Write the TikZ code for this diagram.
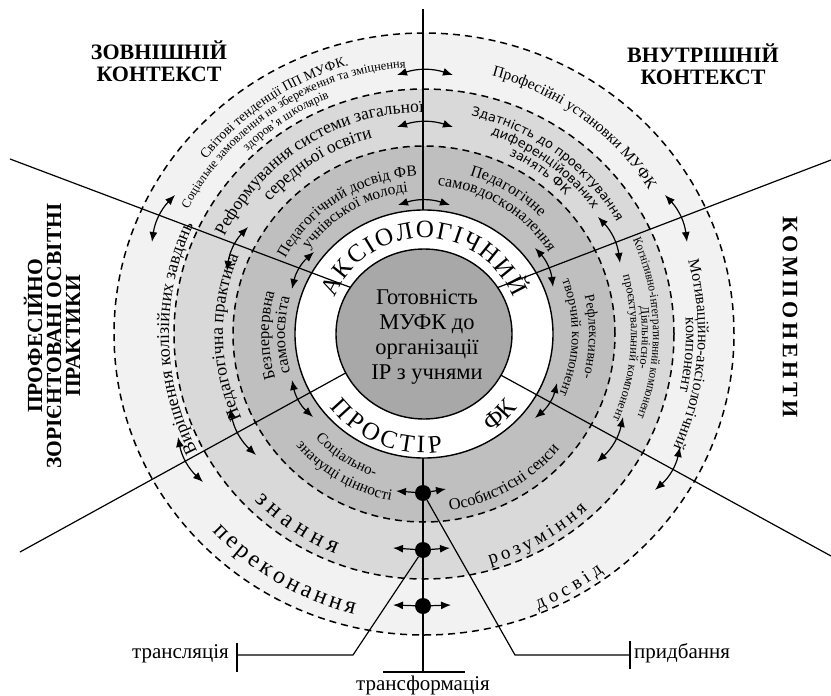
\documentclass[tikz,border=0pt]{standalone}
\usepackage{fontspec}
\setmainfont{Liberation Serif}
\newfontfamily\sansfam{DejaVu Sans}
\newfontfamily\condfam[FakeStretch=0.9]{Liberation Serif}
\usetikzlibrary{decorations.text,arrows.meta}
\newcommand\fsz[1]{\fontsize{#1}{#1}\selectfont}
\newcommand\arctext[5]{\path[decorate,decoration={text along path,text align=center,text={|\rmfamily\mdseries#4|#5}}] ([shift={(#2:#1)}]C) arc[start angle=#2,end angle=#3,radius=#1];}
\newcommand\arcfit[5]{\path[decorate,decoration={text along path,text align={fit to path},text={|\rmfamily\mdseries#4|#5}}] ([shift={(#2:#1)}]C) arc[start angle=#2,end angle=#3,radius=#1];}
\definecolor{outerc}{gray}{0.95}
\definecolor{midc}{gray}{0.85}
\definecolor{innc}{gray}{0.75}
\definecolor{corec}{gray}{0.66}
\tikzset{
  dsh/.style={line width=1.5pt,dash pattern=on 7pt off 5pt},
  ln/.style={line width=1.2pt},
  ringb/.style={line width=1.4pt},
  dbl/.style={<->,line width=1.2pt},
  sarr/.style={->,line width=1.2pt},
  dot/.style={circle,fill=black,inner sep=0pt,minimum size=16pt},
  corner/.style={font=\rmfamily\bfseries\fontsize{22}{22}\selectfont,align=center,inner sep=0pt},
  lbl/.style={font=\rmfamily\fontsize{21}{21}\selectfont,inner sep=0pt}
}
\begin{document}
\begin{tikzpicture}[x=1pt,y=1pt,>={Latex[length=10pt,width=8pt]}]
\useasboundingbox (0,0) rectangle (831,-696);
\coordinate (C) at (424,-334);
% rings
\fill[outerc] (C) ellipse[x radius=310,y radius=301];
\fill[midc] (C) ellipse[x radius=250,y radius=245];
\fill[innc] (C) ellipse[x radius=191,y radius=188];
\draw[dsh] (C) ellipse[x radius=310,y radius=301];
\draw[dsh] (C) ellipse[x radius=250,y radius=245];
\draw[dsh] (C) ellipse[x radius=191,y radius=188];
% vertical axis
\coordinate (vt) at (423,-9);
\coordinate (vb) at (423,-672);
\draw[ln] (vt) -- (vb);
\coordinate (bl) at (383,-672);
\coordinate (br) at (465,-672);
\draw[ln] (bl) -- (br);
% white ring
\draw[ringb,fill=white] (C) ellipse[x radius=129,y radius=124];
% diagonal separators
\coordinate (ulS) at (10,-159);  \coordinate (ulE) at (360,-291);
\coordinate (urS) at (831,-160); \coordinate (urE) at (486,-292);
\coordinate (llS) at (20,-552);  \coordinate (llE) at (362,-364);
\coordinate (lrS) at (831,-556); \coordinate (lrE) at (486,-367);
\draw[ln] (ulS) -- (ulE);
\draw[ln] (urS) -- (urE);
\draw[ln] (llS) -- (llE);
\draw[ln] (lrS) -- (lrE);
% core
\draw[ringb,fill=corec] (C) ellipse[x radius=88,y radius=85];
\node[align=center,font=\rmfamily\fontsize{22.5}{25}\selectfont,inner sep=0pt] (core) at (427,-337) {Готовність\\МУФК до\\організації\\ІР з учнями};
% white ring texts
\arcfit{96}{158}{22}{\fsz{25}}{АКСІОЛОГІЧНИЙ}
\arcfit{119}{218}{279}{\fsz{25}}{ПРОСТІР}
\arctext{119}{295}{331}{\fsz{25}}{ФК}
% upper-left
\arctext{279}{165}{82}{\fsz{13.8}}{Світові тенденції ПП МУФК.}
\arctext{267}{178}{68}{\fsz{12.5}}{Соціальне замовлення на збереження та зміцнення}
\arctext{254}{165}{81}{\fsz{12.5}}{здоров’я школярів}
\arctext{222}{178}{66}{\fsz{17.5}}{Реформування системи загальної}
\arctext{203}{170}{74}{\fsz{17.5}}{середньої освіти}
\arctext{158}{168}{76}{\fsz{15.5}}{Педагогічний досвід ФВ}
\arctext{143}{165}{75}{\fsz{15.5}}{учнівської молоді}
% upper-right
\arctext{267}{95}{13}{\fsz{15.5}}{Професійні установки МУФК}
\arctext{223}{100}{8}{\sansfam\fsz{12.8}}{Здатність до проектування}
\arctext{210}{100}{8}{\sansfam\fsz{12.8}}{диференційованих}
\arctext{198}{100}{9}{\sansfam\fsz{12.8}}{занять ФК}
\arctext{165}{100}{19}{\fsz{16}}{Педагогічне}
\arctext{149}{100}{18}{\fsz{16}}{самовдосконалення}
% right
\arctext{165}{40}{-42}{\fsz{14}}{Рефлексивно-}
\arctext{148}{40}{-43}{\fsz{14}}{творчий компонент}
\arctext{229}{45}{-42}{\condfam\fsz{12.5}}{Когнітивно-інтегративний компонент}
\arctext{218}{40}{-42}{\fsz{12.5}}{Діяльнісно-}
\arctext{207}{40}{-48}{\fsz{12.5}}{проєктувальний компонент}
\arctext{274}{40}{-49}{\fsz{16}}{Мотиваційно-аксіологічний}
\arctext{262}{40}{-49}{\fsz{16}}{компонент}
% left
\arctext{255}{225}{137}{\fsz{18}}{Вирішення колізійних завдань}
\arctext{201}{225}{137}{\fsz{18}}{Педагогічна практика}
\arctext{155}{220}{141}{\fsz{16.5}}{Безперервна}
\arctext{139}{220}{141}{\fsz{16.5}}{самоосвіта}
% bottom
\arctext{151}{205}{270}{\fsz{15}}{Соціально-}
\arctext{170}{208}{272}{\fsz{15.5}}{значущі цінності}
\arcfit{237}{224.5}{248}{\fsz{24}}{знання}
\arcfit{289}{223}{256}{\fsz{24}}{переконання}
\arctext{178}{265}{333}{\fsz{16.5}}{Особистісні сенси}
\arcfit{240}{286}{313}{\fsz{19}}{розуміння}
\arcfit{298}{292.5}{307}{\fsz{19}}{досвід}
% curved double arrows
\coordinate (t1a) at (453,-75);  \coordinate (t1b) at (397,-75);
\coordinate (t2a) at (453,-127); \coordinate (t2b) at (397,-127);
\coordinate (t3a) at (450,-205); \coordinate (t3b) at (398,-205);
\coordinate (ul1a) at (175,-195); \coordinate (ul1b) at (152,-242);
\coordinate (ul2a) at (248,-227); \coordinate (ul2b) at (227,-271);
\coordinate (ul3a) at (314,-252); \coordinate (ul3b) at (292,-289);
\coordinate (ur1a) at (687,-242); \coordinate (ur1b) at (665,-195);
\coordinate (ur2a) at (620,-263); \coordinate (ur2b) at (598,-217);
\coordinate (ur3a) at (553,-287); \coordinate (ur3b) at (535,-248);
\coordinate (ll3a) at (292,-380); \coordinate (ll3b) at (313,-417);
\coordinate (ll2a) at (230,-408); \coordinate (ll2b) at (256,-455);
\coordinate (ll1a) at (178,-437); \coordinate (ll1b) at (203,-482);
\coordinate (lr3a) at (535,-418); \coordinate (lr3b) at (557,-383);
\coordinate (lr2a) at (597,-462); \coordinate (lr2b) at (623,-417);
\coordinate (lr1a) at (655,-490); \coordinate (lr1b) at (680,-447);
\foreach \p in {t1,t2,t3,ul1,ul2,ul3,ur1,ur2,ur3,ll1,ll2,ll3,lr1,lr2,lr3}
  \draw[dbl] (\p a) to[bend right=18] (\p b);
% dots on axis
\node[dot] (d1) at (423,-493) {};
\node[dot] (d2) at (423,-550) {};
\node[dot] (d3) at (423,-606) {};
\coordinate (d1l) at (396,-491); \coordinate (d1r) at (446,-489);
\coordinate (d2l) at (393,-548); \coordinate (d2r) at (450,-548);
\coordinate (d3l) at (393,-605); \coordinate (d3r) at (451,-605);
\foreach \d in {d1,d2,d3}{
  \draw[sarr] (\d) -- (\d l);
  \draw[sarr] (\d) -- (\d r);
}
% labels
\coordinate (tb) at (353,-655); \coordinate (tk) at (237,-655);
\coordinate (tku) at (237,-643); \coordinate (tkd) at (237,-672);
\draw[ln] (d2) -- (tb) -- (tk);
\draw[ln] (tku) -- (tkd);
\node[lbl,anchor=east] (ltr) at (229,-654) {трансляція};
\coordinate (pb) at (515,-655); \coordinate (pk) at (630,-655);
\coordinate (pku) at (630,-641); \coordinate (pkd) at (630,-669);
\draw[ln] (d1) -- (pb) -- (pk);
\draw[ln] (pku) -- (pkd);
\node[lbl,anchor=west] (lpr) at (634,-653) {придбання};
\node[lbl] (ltf) at (423,-685) {трансформація};
% corner headings
\node[corner] (zk) at (159,-61) {ЗОВНІШНІЙ\\КОНТЕКСТ};
\node[corner] (vk) at (703,-64) {ВНУТРІШНІЙ\\КОНТЕКСТ};
\node[corner,rotate=90,font=\rmfamily\bfseries\fontsize{21.5}{19}\selectfont] (pr) at (52,-336) {ПРОФЕСІЙНО\\ЗОРІЄНТОВАНІ ОСВІТНІ\\ПРАКТИКИ};
\node[corner,rotate=-90] (kom) at (790,-317) {\addfontfeatures{LetterSpace=17}КОМПОНЕНТИ};
\end{tikzpicture}
\end{document}
